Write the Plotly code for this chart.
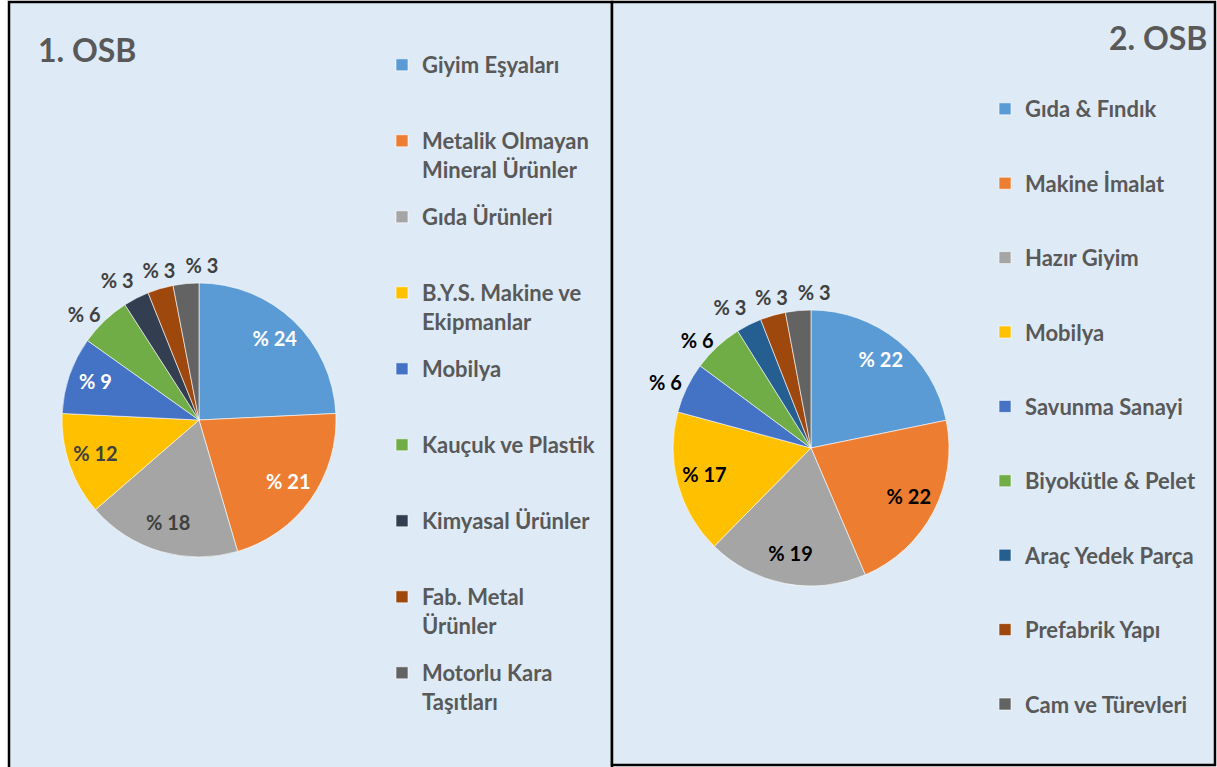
import plotly.graph_objects as go

W, H = 1217, 767

# ---------- data ----------
osb1_labels = ["Giyim Eşyaları", "Metalik Olmayan<br>Mineral Ürünler", "Gıda Ürünleri",
               "B.Y.S. Makine ve<br>Ekipmanlar", "Mobilya", "Kauçuk ve Plastik",
               "Kimyasal Ürünler", "Fab. Metal<br>Ürünler", "Motorlu Kara<br>Taşıtları"]
osb1_values = [24, 21, 18, 12, 9, 6, 3, 3, 3]
osb1_colors = ["#5B9BD5", "#ED7D31", "#A5A5A5", "#FFC000", "#4472C4", "#70AD47",
               "#333F50", "#9E480E", "#636363"]
osb1_textcolors = ["#FFFFFF", "#FFFFFF", "#404040", "#404040", "#FFFFFF",
                   "#404040", "#404040", "#404040", "#404040"]
osb1_inside = [True, True, True, True, True, False, False, False, False]

osb2_labels = ["Gıda & Fındık", "Makine İmalat", "Hazır Giyim", "Mobilya",
               "Savunma Sanayi", "Biyokütle & Pelet", "Araç Yedek Parça",
               "Prefabrik Yapı", "Cam ve Türevleri"]
osb2_values = [22, 22, 19, 17, 6, 6, 3, 3, 3]
osb2_colors = ["#5B9BD5", "#ED7D31", "#A5A5A5", "#FFC000", "#4472C4", "#70AD47",
               "#255E91", "#9E480E", "#636363"]
osb2_textcolors = ["#FFFFFF", "#000000", "#000000", "#000000", "#000000",
                   "#000000", "#404040", "#404040", "#404040"]
osb2_inside = [True, True, True, True, False, False, False, False, False]

titles = ["1. OSB", "2. OSB"]

# ---------- style ----------
FONT = "Lato"
GREY = "#595959"
BG = "#DEEBF7"
RMAX = 1.4          # radial range, pie radius = 1
R_IN, R_OUT = 0.8, 1.04


def px_x(v):
    return v / W


def px_y(v):
    return 1 - v / H


def legend_name(lbl, last):
    lines = lbl.split("<br>")
    if not last:
        lines += ["&nbsp;"] * (2 - len(lines))
    return "<br>".join(lines)


def angles(values):
    total = float(sum(values))
    mids, widths, cum = [], [], 0.0
    for v in values:
        widths.append(v / total * 360.0)
        mids.append((cum + v / 2.0) / total * 360.0)
        cum += v
    return mids, widths


def outside_pos(theta):
    # anchor outside labels around the upper-left rim
    if theta < 325:
        return "middle left"
    if theta < 340:
        return "top left"
    if theta < 350:
        return "top center"
    return "top right"


fig = go.Figure()


def add_pie(labels, values, colors, textcolors, inside, polar, legend):
    mids, widths = angles(values)
    n = len(labels)
    for i, (lbl, c, th, wd) in enumerate(zip(labels, colors, mids, widths)):
        fig.add_trace(go.Barpolar(
            r=[1], theta=[th], width=[wd], base=0,
            marker=dict(color=c, line=dict(color="#FFFFFF", width=0.6)),
            name=legend_name(lbl, i == n - 1), subplot=polar, legend=legend,
            legendgroup=legend + str(i), hoverinfo="skip", showlegend=True,
        ))
    fig.add_trace(go.Scatterpolar(
        r=[R_IN if ins else R_OUT for ins in inside], theta=mids, mode="text",
        text=["% " + str(v) for v in values],
        textposition=["middle center" if ins else outside_pos(th) for ins, th in zip(inside, mids)],
        textfont=dict(family=FONT, size=20, color=textcolors, weight="bold"),
        subplot=polar, showlegend=False, hoverinfo="skip",
    ))


add_pie(osb1_labels, osb1_values, osb1_colors, osb1_textcolors, osb1_inside, "polar", "legend")
add_pie(osb2_labels, osb2_values, osb2_colors, osb2_textcolors, osb2_inside, "polar2", "legend2")


def polar_layout(cx, cy, R):
    half = R * RMAX
    return dict(
        domain=dict(x=[px_x(cx - half), px_x(cx + half)], y=[px_y(cy + half), px_y(cy - half)]),
        bgcolor="rgba(0,0,0,0)", hole=0,
        radialaxis=dict(range=[0, RMAX], visible=False, showgrid=False),
        angularaxis=dict(rotation=90, direction="clockwise", visible=False, showgrid=False),
    )


legend_common = dict(
    xanchor="left", yanchor="top", bgcolor="rgba(0,0,0,0)",
    valign="top", traceorder="grouped", itemwidth=30,
    itemclick=False, itemdoubleclick=False,
    font=dict(family=FONT, size=22, color=GREY, weight="bold"),
)

shapes = [
    dict(type="rect", xref="paper", yref="paper", x0=px_x(9), x1=px_x(612),
         y0=px_y(775), y1=px_y(2), fillcolor=BG, line=dict(color="#000000", width=2.5),
         layer="below"),
    dict(type="rect", xref="paper", yref="paper", x0=px_x(612), x1=px_x(1215),
         y0=px_y(765), y1=px_y(2), fillcolor=BG, line=dict(color="#000000", width=2.5),
         layer="below"),
]

annotations = [
    dict(text=titles[0], xref="paper", yref="paper", x=px_x(36), y=px_y(50),
         xanchor="left", yanchor="middle", showarrow=False,
         font=dict(family=FONT, size=32, color=GREY, weight="bold")),
    dict(text=titles[1], xref="paper", yref="paper", x=px_x(1209), y=px_y(37),
         xanchor="right", yanchor="middle", showarrow=False,
         font=dict(family=FONT, size=32, color=GREY, weight="bold")),
]

fig.update_layout(
    width=W, height=H, margin=dict(l=0, r=0, t=0, b=0),
    paper_bgcolor="#FFFFFF", plot_bgcolor="#FFFFFF",
    showlegend=True,
    polar=polar_layout(199, 420, 137),
    polar2=polar_layout(811, 448, 138),
    legend=dict(x=px_x(382), y=px_y(44), tracegroupgap=15.8, **legend_common),
    legend2=dict(x=px_x(985), y=px_y(88), tracegroupgap=14.2, **legend_common),
    shapes=shapes, annotations=annotations,
)

fig.write_html("out.html", config={"displayModeBar": False},
               post_script="document.body.style.margin='0px';")
